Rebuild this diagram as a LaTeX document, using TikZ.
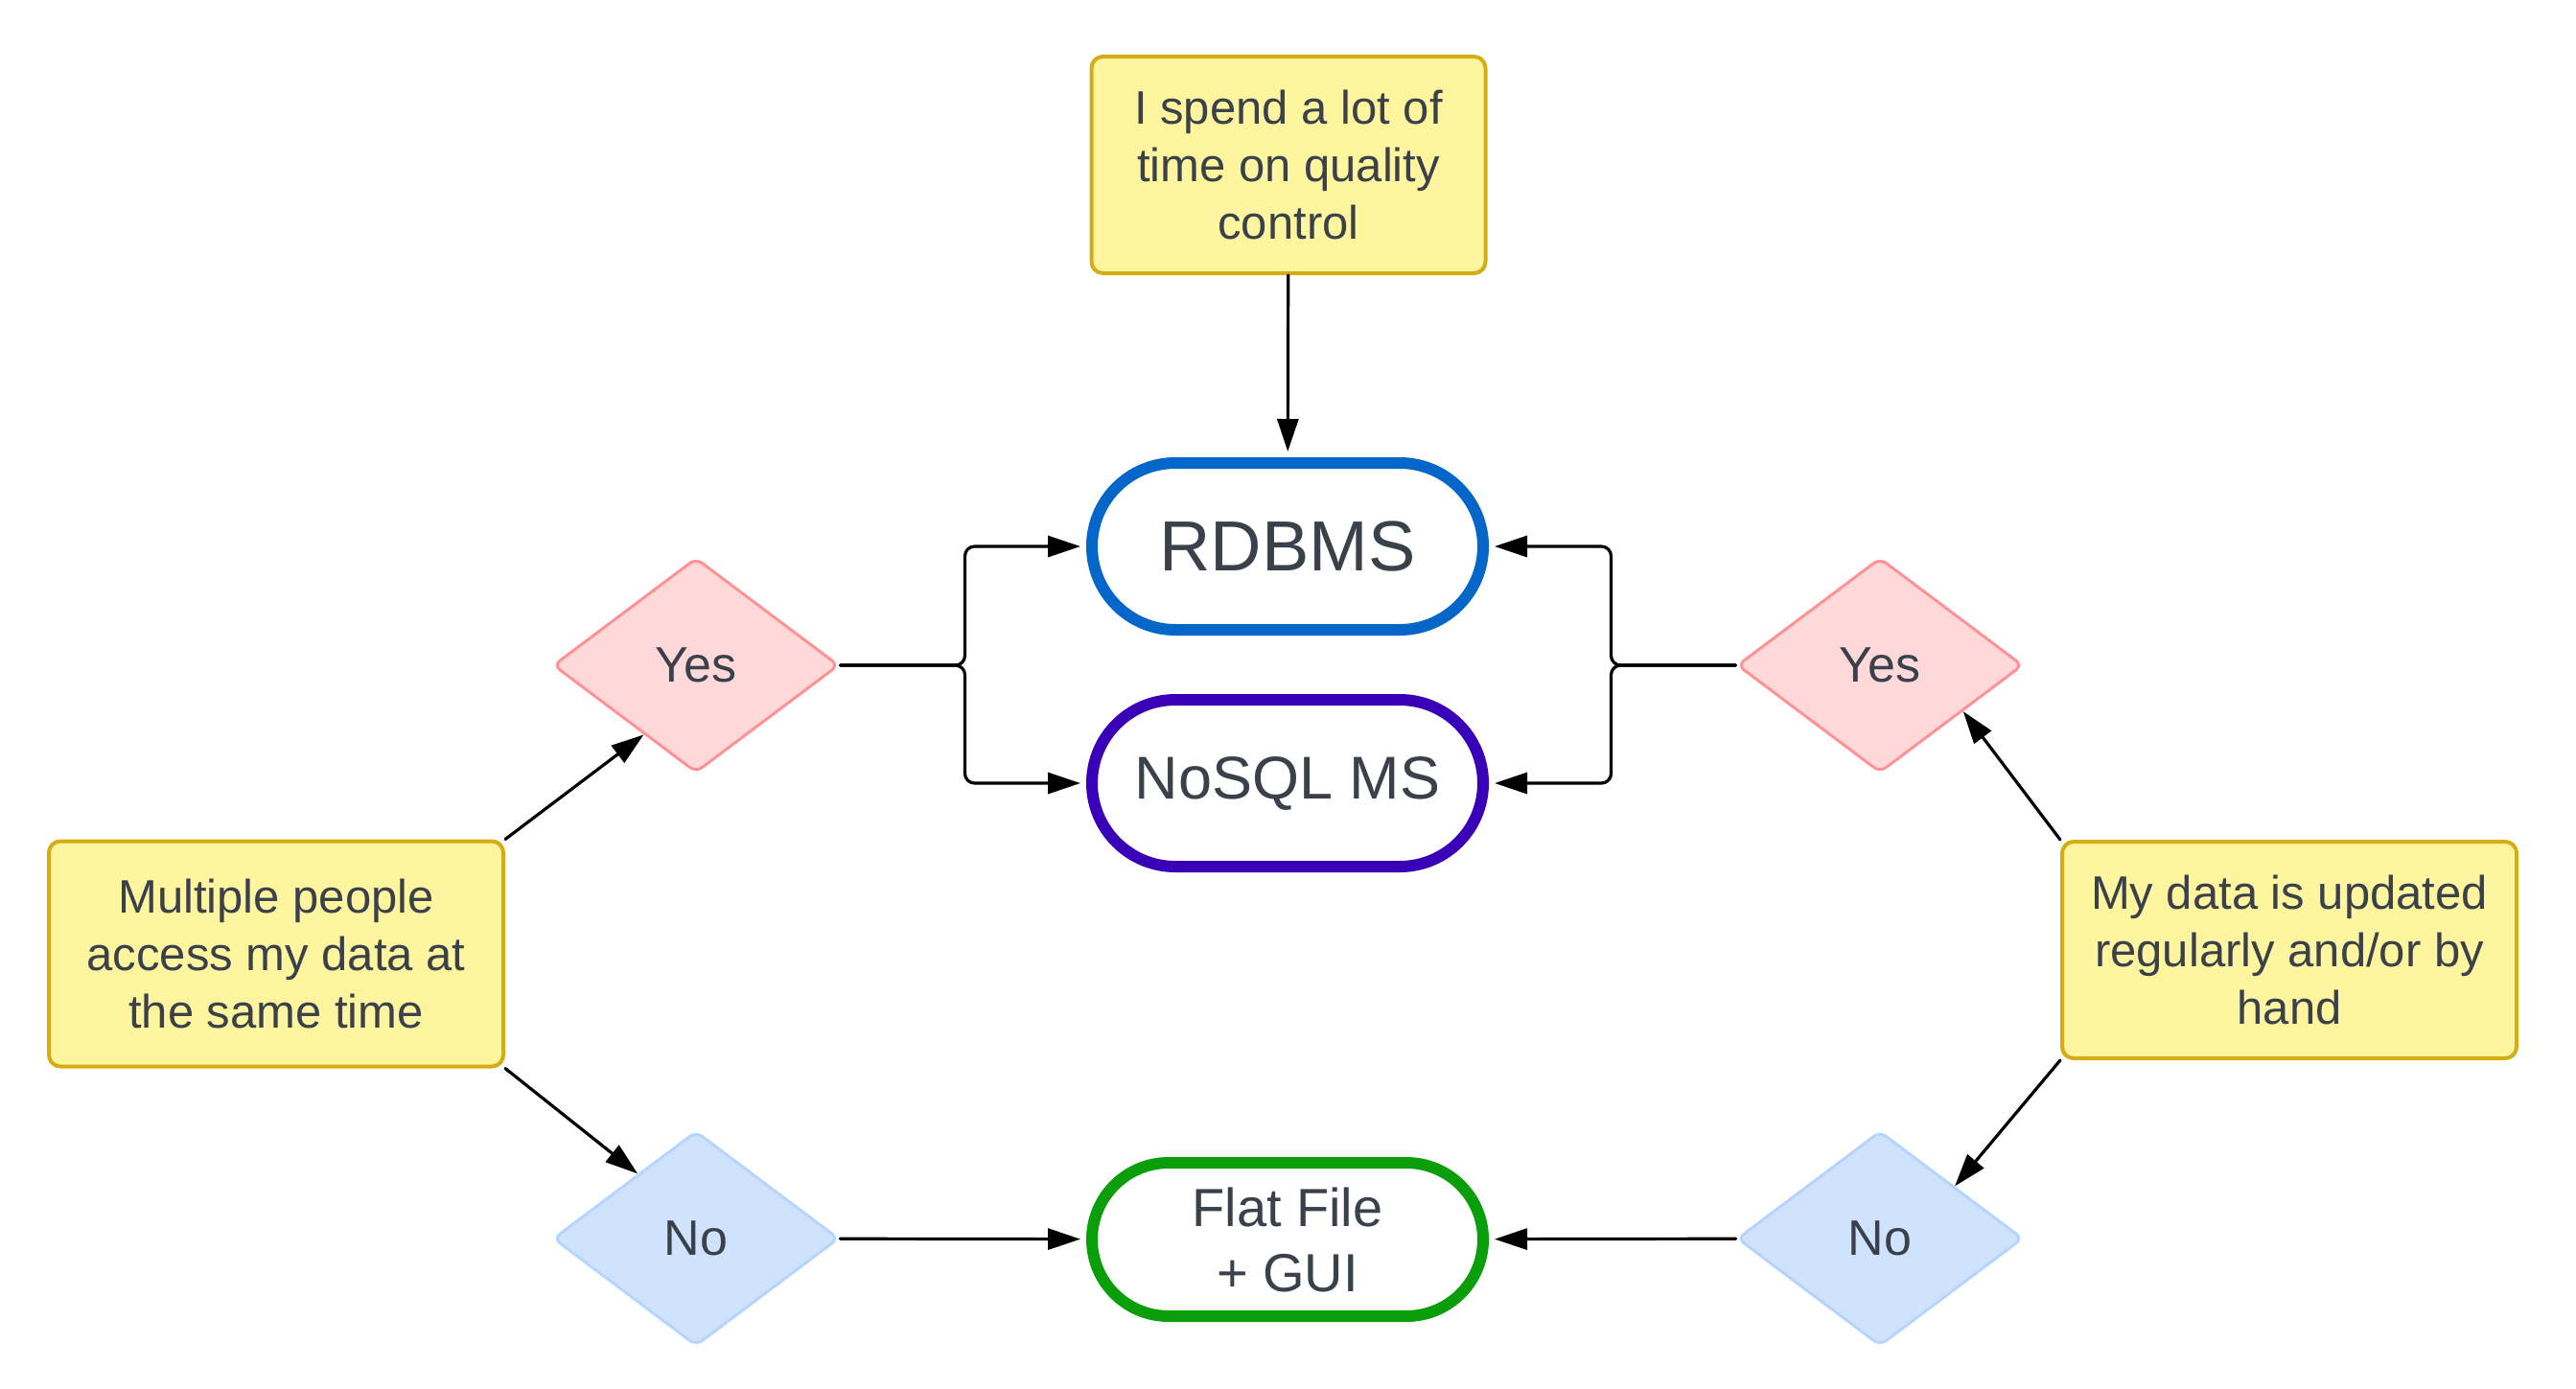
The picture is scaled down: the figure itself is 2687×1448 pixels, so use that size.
\documentclass[tikz,border=0pt]{standalone}
\usepackage{fontspec}
\setmainfont{Liberation Sans}
\usetikzlibrary{shapes.geometric,shapes.misc,arrows.meta}

\definecolor{txtgray}{HTML}{3A414A}
\definecolor{noteFill}{HTML}{FFF59E}
\definecolor{noteLine}{HTML}{D4AC14}
\definecolor{yesFill}{HTML}{FFD8DA}
\definecolor{yesLine}{HTML}{FF9292}
\definecolor{noFill}{HTML}{CFE3FF}
\definecolor{noLine}{HTML}{B5D5FF}
\definecolor{rdbmsBlue}{HTML}{0366C8}
\definecolor{nosqlPurple}{HTML}{3A00B8}
\definecolor{flatGreen}{HTML}{0A9E0A}

\begin{document}
\begin{tikzpicture}[x=0.5pt,y=-0.5pt,line cap=round,line join=round,
  note/.style={draw=noteLine,fill=noteFill,line width=2pt,rounded corners=6pt,
    align=center,text=txtgray,inner sep=0pt,font=\fontsize{24.5}{30}\selectfont},
  answer/.style={diamond,line width=1.5pt,rounded corners=4pt,inner sep=0pt,
    minimum width=149pt,minimum height=112pt,text=txtgray,
    font=\fontsize{26}{31}\selectfont},
  yesbox/.style={answer,draw=yesLine,fill=yesFill},
  nobox/.style={answer,draw=noLine,fill=noFill},
  outcome/.style={rounded rectangle,draw,line width=6pt,fill=white,align=center,
    text=txtgray,inner sep=0pt,minimum width=204pt,minimum height=87pt},
  conn/.style={line width=1.6pt,-{Triangle[length=17pt,width=11pt]}},
  toout/.style={conn,shorten >=3pt}]

% page size
\useasboundingbox (0,0) rectangle (2687,1448);

% questions
\node[note,minimum width=205.5pt,minimum height=113pt] (qc) at (1344,172)
  {I spend a lot of\\time on quality\\control};
\node[note,minimum width=237pt,minimum height=117.5pt] (multi) at (288,995)
  {Multiple people\\access my data at\\the same time};
\node[note,minimum width=237pt,minimum height=113pt] (upd) at (2388,991)
  {My data is updated\\regularly and/or by\\hand};

% answers
\node[yesbox] (yesL) at (726,694) {Yes};
\node[yesbox] (yesR) at (1961,694) {Yes};
\node[nobox] (noL) at (726,1292) {No};
\node[nobox] (noR) at (1961,1292) {No};

% outcomes
\node[outcome,draw=rdbmsBlue,font=\fontsize{37}{44}\selectfont] (rdbms) at (1343,570) {RDBMS};
\node[outcome,draw=nosqlPurple,font=\fontsize{31.5}{38}\selectfont] (nosql) at (1343,817) {NoSQL MS};
\node[outcome,draw=flatGreen,minimum height=80pt,font=\fontsize{28}{34}\selectfont] (flat) at (1343,1293)
  {Flat File\\+ GUI};

% connectors
\draw[toout] (qc) -- (rdbms);
\draw[toout,rounded corners=5pt] (yesL.east) -- ++(130,0) |- (rdbms.west);
\draw[toout,rounded corners=5pt] (yesL.east) -- ++(130,0) |- (nosql.west);
\draw[toout,rounded corners=5pt] (yesR.west) -- ++(-130,0) |- (rdbms.east);
\draw[toout,rounded corners=5pt] (yesR.west) -- ++(-130,0) |- (nosql.east);
\draw[conn] (multi.north east) -- (yesL.233);
\draw[conn] (multi.south east) -- (noL.132);
\draw[conn] (upd.north west) -- (yesR.-29);
\draw[conn] (upd.south west) -- (noR.35);
\draw[toout] (noL) -- (flat);
\draw[toout] (noR) -- (flat);

\end{tikzpicture}
\end{document}
